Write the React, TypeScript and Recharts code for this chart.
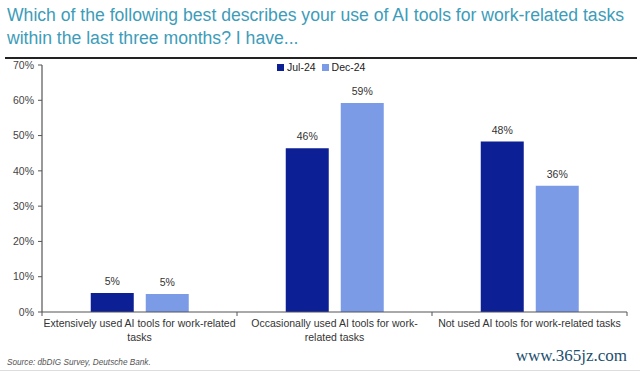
import React from "react";
import { BarChart, Bar, XAxis, YAxis, Legend, LabelList } from "recharts";

const categories = [
  "Extensively used AI tools for work-related tasks",
  "Occasionally used AI tools for work-related tasks",
  "Not used AI tools for work-related tasks",
];
const categoryLines = [
  ["Extensively used AI tools for work-related", "tasks"],
  ["Occasionally used AI tools for work-", "related tasks"],
  ["Not used AI tools for work-related tasks"],
];
const jul24 = [5.4, 46.4, 48.3];
const dec24 = [5.1, 59.2, 35.8];
const yTicks = [0, 10, 20, 30, 40, 50, 60, 70];
const seriesNames = ["Jul-24", "Dec-24"];

const data = categories.map((c, i) => ({ name: c, jul: jul24[i], dec: dec24[i] }));

const FONT = "'Liberation Sans', Arial, sans-serif";
const JUL = "#0c1f95";
const DEC = "#7b9be7";
const AXIS = "#555";

const XTick = (props: any) => {
  const { x, y, payload, index } = props;
  const off = payload && payload.offset ? payload.offset : 97.5;
  const lines = categoryLines[index] || [String(payload.value)];
  const isLast = index === categories.length - 1;
  return (
    <g>
      <line x1={x - off} y1={y - 8} x2={x - off} y2={y - 4} stroke={AXIS} strokeWidth={1} />
      {isLast && <line x1={x + off} y1={y - 8} x2={x + off} y2={y - 4} stroke={AXIS} strokeWidth={1} />}
      <text x={x} y={y + 7} textAnchor="middle" fontSize={10.5} fill="#333" fontFamily={FONT}>
        {lines.map((l: string, i: number) => (
          <tspan key={i} x={x} dy={i === 0 ? 0 : 14}>{l}</tspan>
        ))}
      </text>
    </g>
  );
};

const LegendContent = () => (
  <div style={{ display: "flex", alignItems: "center", fontSize: 10.5, fontFamily: FONT, color: "#222" }}>
    {[JUL, DEC].map((c, i) => (
      <span key={i} style={{ display: "flex", alignItems: "center", marginRight: 6 }}>
        <span style={{ display: "inline-block", width: 7, height: 7, background: c, marginRight: 3 }} />
        {seriesNames[i]}
      </span>
    ))}
  </div>
);

const fmtPct = (v: any) => `${Math.round(Number(v))}%`;

export default function App() {
  return (
    <div style={{ position: "absolute", left: 0, top: 0, width: 640, height: 372, background: "#fff", fontFamily: FONT, overflow: "hidden" }}>
      <div style={{ position: "absolute", left: 7, top: 4, fontSize: 17.6, lineHeight: "23px", color: "#3d9cb9", width: 634, whiteSpace: "nowrap" }}>
        Which of the following best describes your use of AI tools for work-related tasks
        <br />
        within the last three months? I have...
      </div>
      <div style={{ position: "absolute", left: 5, top: 57, width: 632, height: 2, background: "#222" }} />
      <div style={{ position: "absolute", left: 0, top: 0 }}>
        <BarChart
          width={640}
          height={372}
          data={data}
          margin={{ top: 65, right: 13, bottom: 26, left: 4 }}
          barCategoryGap="25%"
          barGap={12}
        >
          <XAxis
            dataKey="name"
            tick={<XTick />}
            tickLine={false}
            axisLine={{ stroke: AXIS, strokeWidth: 1.2 }}
            interval={0}
            height={34}
          />
          <YAxis
            domain={[0, 70]}
            ticks={yTicks}
            tickFormatter={(v: number) => `${v}%`}
            width={38}
            tick={{ fontSize: 10.5, fill: "#444", fontFamily: FONT }}
            tickLine={{ stroke: AXIS }}
            tickSize={4}
            tickMargin={4}
            axisLine={{ stroke: AXIS, strokeWidth: 1.2 }}
          />
          <Legend
            layout="horizontal"
            verticalAlign="middle"
            align="center"
            content={<LegendContent />}
            wrapperStyle={{ top: 61, left: 277, width: 130, height: 14 }}
          />
          <Bar dataKey="jul" name={seriesNames[0]} fill={JUL} isAnimationActive={false}>
            <LabelList dataKey="jul" position="top" offset={8} formatter={fmtPct} style={{ fontSize: 10.5, fill: "#333", fontFamily: FONT }} />
          </Bar>
          <Bar dataKey="dec" name={seriesNames[1]} fill={DEC} isAnimationActive={false}>
            <LabelList dataKey="dec" position="top" offset={8} formatter={fmtPct} style={{ fontSize: 10.5, fill: "#333", fontFamily: FONT }} />
          </Bar>
        </BarChart>
      </div>
      <div style={{ position: "absolute", left: 7, top: 358, fontSize: 8.2, fontStyle: "italic", color: "#555" }}>
        Source: dbDIG Survey, Deutsche Bank.
      </div>
      <div style={{ position: "absolute", right: 13, top: 346, fontSize: 17, lineHeight: "20px", fontFamily: "'Liberation Serif', 'DejaVu Serif', serif", color: "#1c4f6e" }}>
        www.365jz.com
      </div>
      <div style={{ position: "absolute", left: 0, top: 370, width: 640, height: 1, background: "#ddd" }} />
    </div>
  );
}
